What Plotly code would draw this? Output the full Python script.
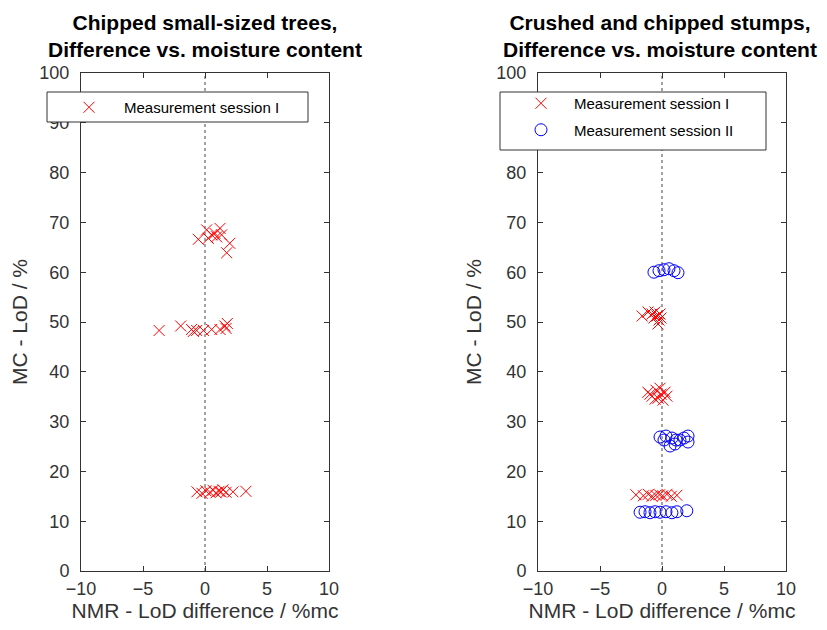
import plotly.graph_objects as go

# ---- Data ----
# Left panel: Chipped small-sized trees, measurement session I
trees_s1_diff = [-0.54, 0.13, 1.21, 0.54, 0.94, 1.34, 2.0, 1.75, 0.27, 0.8,
                 -3.7, -1.96, -1.08, -0.67, -0.13, 0.54, 1.21, 1.6, 1.8, 1.7, -0.94,
                 -0.65, -0.24, 0.08, 0.4, 0.65, 0.89, 1.13, 1.29, 1.45, 1.7, 2.26, 3.3]
trees_s1_mc = [66.6, 68.5, 68.8, 67.5, 67.1, 67.5, 65.8, 63.9, 66.8, 67.8,
               48.3, 49.2, 48.5, 48.3, 48.3, 48.5, 48.5, 49.2, 49.7, 48.7, 48.1,
               15.9, 15.6, 16.1, 15.8, 16.2, 15.7, 16.0, 15.9, 16.3, 15.8, 15.9, 16.0]

# Right panel: Crushed and chipped stumps
stumps_s1_diff = [-1.6, -1.13, -0.8, -0.56, -0.4, -0.24, -0.16, -0.32, -0.65, -0.08,
                  -1.13, -0.8, -0.48, -0.32, -0.16, -0.08, 0.08, 0.24, 0.4, -0.56, -0.97,
                  -2.1, -1.5, -1.1, -0.8, -0.5, -0.2, 0.05, 0.4, 0.75, 1.2]
stumps_s1_mc = [51.2, 52.0, 51.6, 52.0, 51.2, 50.4, 51.6, 49.6, 50.8, 50.8,
                35.9, 35.1, 36.3, 34.7, 36.7, 35.5, 34.3, 35.9, 35.1, 34.5, 35.5,
                15.3, 15.1, 15.4, 15.0, 15.2, 15.3, 15.1, 15.4, 15.0, 15.2]
stumps_s2_diff = [-0.65, -0.24, 0.16, 0.56, 0.97, 1.29,
                  -0.16, 0.32, 0.8, 1.13, 1.45, 1.77, 2.1, 2.1, 0.65, 1.05, 0.16,
                  -1.77, -1.37, -0.97, -0.56, -0.16, 0.32, 0.8, 1.2, 2.0]
stumps_s2_mc = [60.0, 60.3, 60.5, 60.7, 60.3, 59.9,
                26.9, 27.1, 26.7, 26.3, 26.3, 26.7, 27.1, 25.9, 25.1, 25.5, 26.3,
                11.8, 11.9, 11.7, 11.9, 11.8, 11.9, 11.7, 11.9, 12.1]

titles = ["<b>Chipped small-sized trees,<br>Difference vs. moisture content</b>",
          "<b>Crushed and chipped stumps,<br>Difference vs. moisture content</b>"]
x_label = "NMR - LoD difference / %mc"
y_label = "MC - LoD / %"
x_ticks = [-10, -5, 0, 5, 10]
y_ticks = [0, 10, 20, 30, 40, 50, 60, 70, 80, 90, 100]

FONT = "Liberation Sans, Arial, sans-serif"
RED = "#ff0000"
BLUE = "#0000ff"
AX = "#333333"

fig = go.Figure()

fig.add_trace(go.Scatter(x=trees_s1_diff, y=trees_s1_mc, mode="markers",
                         name="Measurement session I", xaxis="x", yaxis="y",
                         legend="legend", legendgroup="a",
                         marker=dict(symbol="x-thin-open", size=11, color=RED,
                                     line=dict(width=1, color=RED))))
fig.add_trace(go.Scatter(x=stumps_s1_diff, y=stumps_s1_mc, mode="markers",
                         name="Measurement session I", xaxis="x2", yaxis="y2",
                         legend="legend2", legendgroup="b",
                         marker=dict(symbol="x-thin-open", size=11, color=RED,
                                     line=dict(width=1, color=RED))))
fig.add_trace(go.Scatter(x=stumps_s2_diff, y=stumps_s2_mc, mode="markers",
                         name="Measurement session II", xaxis="x2", yaxis="y2",
                         legend="legend2", legendgroup="c",
                         marker=dict(symbol="circle-open", size=12, color=BLUE,
                                     line=dict(width=1, color=BLUE))))

W, H = 827, 630
OFF = 8  # page body margin in the screenshot
def px(x): return (x - OFF) / W
def py(y): return 1 - (y - OFF) / H

axis_common = dict(range=[-10, 10], tickvals=x_ticks, showgrid=False, zeroline=False,
                   showline=True, linecolor=AX, linewidth=1, mirror="ticks",
                   ticks="inside", ticklen=5, tickcolor=AX, automargin=False,
                   ticklabelstandoff=1,
                   tickfont=dict(family=FONT, size=18, color=AX),
                   title=dict(text=x_label, font=dict(family=FONT, size=21, color=AX),
                              standoff=0))
yaxis_common = dict(range=[0, 100], tickvals=y_ticks, showgrid=False, zeroline=False,
                    showline=True, linecolor=AX, linewidth=1, mirror="ticks",
                    ticks="inside", ticklen=5, tickcolor=AX, automargin=False,
                    ticklabelstandoff=7,
                    tickfont=dict(family=FONT, size=18, color=AX),
                    title=dict(text=y_label, font=dict(family=FONT, size=21, color=AX),
                               standoff=9))

ydom = [py(571), py(73)]
leg_font = dict(family=FONT, size=15, color="black")
fig.update_layout(
    width=W, height=H, paper_bgcolor="white", plot_bgcolor="white",
    margin=dict(l=0, r=0, t=0, b=0, autoexpand=False),
    xaxis=dict(domain=[px(81), px(329)], anchor="y", **axis_common),
    yaxis=dict(domain=ydom, anchor="x", **yaxis_common),
    xaxis2=dict(domain=[px(538), px(786)], anchor="y2", **axis_common),
    yaxis2=dict(domain=ydom, anchor="x2", **yaxis_common),
    legend=dict(x=px(54), y=py(91), xanchor="left", yanchor="top",
                bgcolor="rgba(0,0,0,0)", borderwidth=0, tracegroupgap=4,
                font=leg_font, itemwidth=60),
    legend2=dict(x=px(508), y=py(87), xanchor="left", yanchor="top",
                 bgcolor="rgba(0,0,0,0)", borderwidth=0, tracegroupgap=4,
                 font=leg_font, itemwidth=56),
    showlegend=True,
)

# titles
for i, t in enumerate(titles):
    cx = [205, 660][i]
    fig.add_annotation(text=t, x=px(cx), y=py(36), xref="paper", yref="paper",
                       xanchor="center", yanchor="middle", showarrow=False,
                       font=dict(family=FONT, size=21, color="black"))

# dotted zero lines
for xr, yr in [("x", "y"), ("x2", "y2")]:
    fig.add_shape(type="line", xref=xr, yref=yr, x0=0, x1=0, y0=0, y1=100,
                  line=dict(color="#444444", width=1, dash="dot"), layer="below")

# legend boxes
fig.add_shape(type="rect", xref="paper", yref="paper", x0=px(47), x1=px(308),
              y0=py(122), y1=py(92), line=dict(color=AX, width=1),
              fillcolor="white", layer="above")
fig.add_shape(type="rect", xref="paper", yref="paper", x0=px(500), x1=px(766),
              y0=py(150), y1=py(92), line=dict(color=AX, width=1),
              fillcolor="white", layer="above")

fig.write_html("out.html")
